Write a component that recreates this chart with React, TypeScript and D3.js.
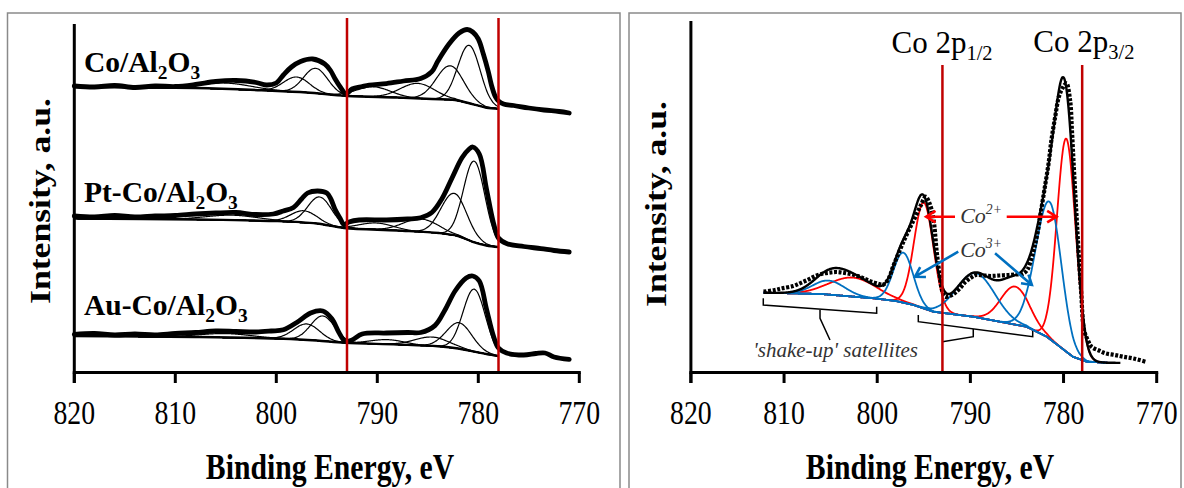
import React from "react";
import * as d3 from "d3";

// ---------- shared ----------
const tickValues = [820, 810, 800, 790, 780, 770];
const refLines = [793, 778];

// ---------- left panel: three spectra (BE eV, intensity a.u.) ----------
const sampleNames = ["Co/Al2O3", "Pt-Co/Al2O3", "Au-Co/Al2O3"];

const coAlData: [number, number][] = [
  [820, 287], [818, 286], [816, 287.5], [814, 285.5], [812, 287], [810, 286.5], [808, 288.5],
  [806, 291.5], [804, 292.5], [802, 290.5], [801, 288], [800, 290], [799.3, 298], [798.5, 306],
  [797.6, 311.5], [796.4, 314], [795.2, 309], [794.6, 302], [794.2, 294.5], [793.6, 285],
  [793.1, 279], [792.5, 284], [791.5, 286.5], [790.8, 288], [789.1, 289.4], [787.4, 292],
  [785.7, 294.5], [784.6, 301.4], [784, 312], [782.9, 329], [781.9, 340], [781.1, 343.5],
  [780.55, 341], [780, 334], [779.5, 319], [779, 301], [778.7, 288], [778.3, 276], [778, 272],
  [777.5, 269], [776.5, 267.5], [775, 265], [773.5, 263], [772, 261.5], [771, 260],
];
const coAlBackground: [number, number][] = [
  [820, 286], [808, 285], [801, 282.5], [797, 280.5], [793, 277], [788, 275.5], [784.6, 274],
  [782.3, 273], [780.5, 268.7], [779.2, 265.3], [778, 264.3],
];
// [center eV, height, FWHM high-BE side, FWHM low-BE side]
const coAlPeaks = [
  [780.9, 58, 2.6, 2.6], [782.8, 34, 3.2, 3.2], [786, 15, 4, 4], [790.4, 10, 4, 4],
  [796.1, 25, 2.8, 2.8], [798, 15, 3, 3], [805, 6, 6, 6],
];

const ptCoData: [number, number][] = [
  [820, 157], [818, 156], [816, 157.5], [814, 156], [812, 157], [810, 157.5], [808, 159],
  [806, 160], [804, 160.5], [802, 158.5], [800.3, 159], [799.3, 162], [798.3, 165.6],
  [797.5, 174], [796.9, 180], [795.9, 182], [795, 180], [794.6, 174], [794.2, 164],
  [793.7, 155], [793.3, 148.4], [792.8, 151], [791.8, 153], [789.1, 153], [787, 154],
  [785.7, 155.3], [784.6, 160.5], [783.6, 174.2], [782.6, 195], [781.6, 215.5], [780.9, 224],
  [780.55, 226], [779.9, 219], [779.2, 184.5], [778.5, 150.2], [778, 135], [777.2, 129.5],
  [775.5, 126.5], [773.8, 124.4], [772.5, 122.5], [771, 121],
];
const ptCoBackground: [number, number][] = [
  [820, 154.5], [808, 153.5], [800.3, 152], [796, 149.5], [793.3, 145], [788, 142.5],
  [783.9, 140], [782, 137], [780.55, 131.2], [779.2, 127.5], [778, 126],
];
const ptCoPeaks = [
  [780.4, 81, 2.5, 2.5], [782.4, 42, 3, 3], [785.7, 13, 4, 4], [790.1, 6.5, 4, 4],
  [795.7, 27, 2.8, 2.8], [797.3, 12, 3, 3], [804.4, 5, 6, 6],
];

const auCoData: [number, number][] = [
  [820, 38.7], [818, 39.5], [816, 38], [814, 39], [812, 38], [810, 39.5], [808, 40.5],
  [806, 42], [804, 41.5], [802, 41], [800.5, 42], [799.3, 43.2], [797.9, 51], [796.6, 60],
  [795.4, 62], [794.5, 54.2], [793.8, 40.5], [793.2, 32], [792.5, 33], [791.5, 39],
  [789.1, 40], [787, 40.5], [785.7, 40.5], [784.3, 47.4], [783.3, 63], [782.3, 82],
  [781.2, 95], [780.55, 97], [779.9, 92], [779.2, 64.5], [778.5, 37], [778, 25], [777.2, 20],
  [775.5, 18], [774.3, 19.5], [773.4, 20], [772.5, 16], [771, 13.6],
];
const auCoBackground: [number, number][] = [
  [820, 37], [808, 36], [799.3, 34.3], [796, 32.5], [793.2, 30.2], [788, 28.5], [784, 26.7],
  [782, 24.5], [780.55, 21.6], [779.2, 19], [778, 17],
];
const auCoPeaks = [
  [780.4, 62.5, 2.6, 2.6], [781.9, 26, 3, 3], [784.6, 9, 4, 4], [789, 4.5, 4, 4],
  [795.4, 25, 2.8, 2.8], [797, 16, 3, 3], [805, 4, 6, 6],
];

// ---------- right panel: Co/Al2O3 deconvolution ----------
const coData: [number, number][] = [
  [812.2, 80.3], [811, 82], [810.2, 83.7], [809, 86], [808.3, 88.7], [807.5, 92], [806.8, 95.3],
  [806, 98], [805.2, 99.3], [804.4, 100], [803.7, 99.3], [802.9, 98], [802.1, 96], [801.3, 93],
  [800.6, 90.3], [799.8, 88], [799.4, 87], [798.8, 93], [798.3, 105.3], [797.7, 119],
  [797.1, 132], [796.5, 144], [795.9, 155.3], [795.3, 167], [794.8, 175.3], [794.4, 169],
  [794, 155.3], [793.6, 119], [793.3, 97], [793.05, 82], [792.7, 75.3], [792.2, 76],
  [791.7, 78.7], [791.1, 84], [790.5, 90.3], [789.9, 94.5], [789.4, 97], [788.6, 96.5],
  [787.8, 96], [786.9, 96.5], [785.9, 97], [785.1, 97.5], [784.4, 98], [783.9, 102],
  [783.6, 108.7], [783.2, 122], [782.8, 138.7], [782.4, 162], [782, 185.3], [781.6, 209],
  [781.3, 232], [780.9, 255], [780.5, 275.3], [780.1, 284], [779.7, 288.7], [779.3, 272],
  [779.1, 242], [778.9, 205.3], [778.7, 172], [778.5, 139], [778.3, 107], [778.1, 79],
  [777.8, 42], [777.4, 32], [777, 25.3], [776.2, 21.5], [775.5, 18.7], [774.5, 17],
  [773.6, 15.3], [772.5, 13.5], [771.2, 10.3],
];
const coBackground: [number, number][] = [
  [812.2, 79.3], [806, 78], [800.4, 73.7], [798, 71], [796.1, 67], [794, 60.3], [789.7, 55.3],
  [784, 45.3], [781.8, 35.3], [780.4, 25.3], [779, 15.3], [777.5, 10.3], [775.4, 9.3], [773, 9],
];
const co2Peaks = [
  [779.7, 213, 2.35, 2.35], [785.2, 38, 3.6, 3.6], [795.0, 106, 2.45, 2.45], [802.6, 19, 5.9, 5.9],
];
const co3Peaks = [
  [781.5, 137, 3.5, 3.0], [789.4, 44, 4.8, 4.8], [797.2, 50, 2.5, 2.5], [805.2, 14, 4, 4],
];

// ---------- styling ----------
const FONT = "'Liberation Serif', 'Times New Roman', Times, serif";
const DARKRED = "#c00000";
const RED = "#ff0000";
const BLUE = "#0070c0";
const STRETCH = 1.2;

function peakValue(be: number, p: number[]) {
  const [c, h, fHigh, fLow] = p;
  const s = (be >= c ? fHigh : fLow) / 2.3548;
  return h * Math.exp(-0.5 * ((be - c) / s) ** 2);
}

function bgScale(bg: [number, number][]) {
  return d3.scaleLinear().domain(bg.map((d) => d[0])).range(bg.map((d) => d[1])).clamp(true);
}

function Axes({ x, yTop }: { x: d3.ScaleLinear<number, number>; yTop: number }) {
  const y0 = 372.5;
  return (
    <g>
      <line x1={x(820)} x2={x(820)} y1={yTop} y2={383} stroke="#000" strokeWidth={3} />
      <line x1={x(820) - 1.5} x2={x(770) + 1.5} y1={y0} y2={y0} stroke="#000" strokeWidth={3} />
      {tickValues.map((t) => (
        <g key={t}>
          <line x1={x(t)} x2={x(t)} y1={y0} y2={383} stroke="#000" strokeWidth={3} />
          <text
            transform={`translate(${x(t)},424) scale(1,${STRETCH})`}
            textAnchor="middle"
            fontFamily={FONT}
            fontSize={27.8}
            fill="#000"
          >
            {t}
          </text>
        </g>
      ))}
    </g>
  );
}

function SubLabel({ x, y, parts, size, bold, italic, fill }: any) {
  return (
    <text x={x} y={y} fontFamily={FONT} fontSize={size} fontWeight={bold ? "bold" : "normal"}
      fontStyle={italic ? "italic" : "normal"} fill={fill || "#000"}>
      {parts.map((p: any, i: number) => (
        <tspan key={i} fontSize={p.s ? size * p.s : size} dy={p.dy || 0}>{p.t}</tspan>
      ))}
    </text>
  );
}

export default function App() {
  // left scales
  const xL = d3.scaleLinear().domain([820, 770]).range([74.3, 579.3]);
  const yL = d3.scaleLinear().domain([0, 349]).range([373, 24]);
  // right scales
  const xR = d3.scaleLinear().domain([820, 770]).range([690.9, 1156.7]);
  const yR = d3.scaleLinear().domain([0, 350]).range([372, 22]);

  const lineL = d3.line<[number, number]>().x((d) => xL(d[0])).y((d) => yL(d[1])).curve(d3.curveCatmullRom);
  const lineR = d3.line<[number, number]>().x((d) => xR(d[0])).y((d) => yR(d[1])).curve(d3.curveCatmullRom);

  const gridL = d3.range(820, 777.99, -0.1);
  const gridR = d3.range(812.2, 775.3, -0.05);
  const gridFit = d3.range(812.2, 773.9, -0.05);

  const spectra = [
    { name: sampleNames[0], data: coAlData, bg: coAlBackground, peaks: coAlPeaks, labelY: 71.6 },
    { name: sampleNames[1], data: ptCoData, bg: ptCoBackground, peaks: ptCoPeaks, labelY: 202 },
    { name: sampleNames[2], data: auCoData, bg: auCoBackground, peaks: auCoPeaks, labelY: 315.3 },
  ];

  const bgR = bgScale(coBackground);
  const allR = [...co2Peaks, ...co3Peaks];
  const fit: [number, number][] = gridFit.map((be) => [be, bgR(be) + d3.sum(allR, (p) => peakValue(be, p))]);

  const labelParts = (name: string) => {
    const [pre] = name.split("Al2O3");
    return [
      { t: pre + "Al" },
      { t: "2", s: 0.66, dy: 7 },
      { t: "O", dy: -7 },
      { t: "3", s: 0.66, dy: 7 },
    ];
  };

  const arrowHead = (x1: number, y1: number, x2: number, y2: number, len = 11, spread = 0.55) => {
    const a = Math.atan2(y2 - y1, x2 - x1);
    const p1 = [x2 - len * Math.cos(a - spread), y2 - len * Math.sin(a - spread)];
    const p2 = [x2 - len * Math.cos(a + spread), y2 - len * Math.sin(a + spread)];
    return `M${x1},${y1}L${x2},${y2}M${p1[0]},${p1[1]}L${x2},${y2}L${p2[0]},${p2[1]}`;
  };

  // annotation anchors in data space (BE, intensity)
  const co2Arrows = [[791.65, 155.3, 794.75, 155.3], [786.1, 155.3, 780.75, 155.3]];
  const co3Arrows = [[791.3, 120.3, 795.95, 95.3], [787.35, 118.7, 783.4, 87]];
  const bracket1 = [[812.23, 73.7], [812.23, 67], [800.06, 58.7], [800.06, 65.3]];
  const stem1 = [[806.14, 62], [806.14, 53.7], [805.07, 32]];
  const bracket2 = [[795.59, 57], [795.59, 50.3], [783.31, 35.3], [783.31, 42]];
  const stem2 = [[789.69, 43.1], [789.69, 35.3], [793.0, 30.3]];
  const poly = (pts: number[][]) => "M" + pts.map((p) => `${xR(p[0])},${yR(p[1])}`).join("L");

  return (
    <svg width={1184} height={488} style={{ position: "absolute", left: 0, top: 0, background: "#fff" }}>
      <rect x={0} y={0} width={1184} height={488} fill="#fff" />
      {/* panel frames */}
      <rect x={7.5} y={13} width={612.5} height={520} fill="none" stroke="#8a8a8a" strokeWidth={1.5} />
      <rect x={629} y={13} width={552} height={520} fill="none" stroke="#8a8a8a" strokeWidth={1.5} />

      {/* ---------- LEFT PANEL ---------- */}
      <g>
        {spectra.map((s) => {
          const bg = bgScale(s.bg);
          return (
            <g key={s.name}>
              {s.peaks.map((p, i) => (
                <path key={i} fill="none" stroke="#000" strokeWidth={1.2}
                  d={lineL(gridL.map((be) => [be, bg(be) + peakValue(be, p)]) as [number, number][]) || ""} />
              ))}
              <path fill="none" stroke="#000" strokeWidth={2.4} d={lineL(s.bg) || ""} />
              <path fill="none" stroke="#000" strokeWidth={4.8} strokeLinejoin="round" strokeLinecap="round"
                d={lineL(s.data) || ""} />
              <SubLabel x={84} y={s.labelY} size={29.5} bold parts={labelParts(s.name)} />
            </g>
          );
        })}
        {refLines.map((r) => (
          <line key={r} x1={xL(r)} x2={xL(r)} y1={yL(355)} y2={yL(0)} stroke={DARKRED} strokeWidth={2.5} />
        ))}
        <Axes x={xL} yTop={24} />
        <text transform={`translate(50,201) scale(1,${STRETCH}) rotate(-90)`} textAnchor="middle"
          fontFamily={FONT} fontWeight="bold" fontSize={29.7}>Intensity, a.u.</text>
        <text transform={`translate(330,479) scale(1,${STRETCH})`} textAnchor="middle"
          fontFamily={FONT} fontWeight="bold" fontSize={29.7}>Binding Energy, eV</text>
      </g>

      {/* ---------- RIGHT PANEL ---------- */}
      <g>
        {/* brackets */}
        <path d={poly(bracket1)} fill="none" stroke="#000" strokeWidth={1.5} />
        <path d={poly(stem1)} fill="none" stroke="#000" strokeWidth={1.5} />
        <path d={poly(bracket2)} fill="none" stroke="#000" strokeWidth={1.5} />
        <path d={poly(stem2)} fill="none" stroke="#000" strokeWidth={1.5} />
        <text x={xR(813.3)} y={yR(15.3)} fontFamily={FONT} fontStyle="italic" fontSize={21} fill="#333">
          'shake-up' satellites
        </text>

        {/* components */}
        {co2Peaks.map((p, i) => (
          <path key={"r" + i} fill="none" stroke={RED} strokeWidth={1.8}
            d={lineR(gridR.map((be) => [be, bgR(be) + peakValue(be, p)]) as [number, number][]) || ""} />
        ))}
        {co3Peaks.map((p, i) => (
          <path key={"b" + i} fill="none" stroke={BLUE} strokeWidth={1.8}
            d={lineR(gridR.map((be) => [be, bgR(be) + peakValue(be, p)]) as [number, number][]) || ""} />
        ))}
        {/* fit envelope */}
        <path fill="none" stroke="#000" strokeWidth={2.4} d={lineR(fit) || ""} />
        {/* measured points */}
        <path fill="none" stroke="#000" strokeWidth={4.2} strokeDasharray="3 1.6" d={lineR(coData) || ""} />

        {refLines.map((r) => (
          <line key={r} x1={xR(r)} x2={xR(r)} y1={yR(307)} y2={yR(0)} stroke={DARKRED} strokeWidth={2.5} />
        ))}

        {/* Co2+ / Co3+ annotations */}
        {co2Arrows.map((a, i) => (
          <path key={"ra" + i} d={arrowHead(xR(a[0]), yR(a[1]), xR(a[2]), yR(a[3]))} fill="none"
            stroke={RED} strokeWidth={2.6} />
        ))}
        {co3Arrows.map((a, i) => (
          <path key={"ba" + i} d={arrowHead(xR(a[0]), yR(a[1]), xR(a[2]), yR(a[3]))} fill="none"
            stroke={BLUE} strokeWidth={2.6} />
        ))}
        <SubLabel x={xR(791.1)} y={yR(148.7)} size={22} italic fill="#333"
          parts={[{ t: "Co" }, { t: "2+", s: 0.62, dy: -9 }]} />
        <SubLabel x={xR(791.1)} y={yR(115.3)} size={22} italic fill="#333"
          parts={[{ t: "Co" }, { t: "3+", s: 0.62, dy: -9 }]} />

        <SubLabel x={891.5} y={53.3} size={31} parts={[{ t: "Co 2p" }, { t: "1/2", s: 0.66, dy: 7 }]} />
        <SubLabel x={1033.3} y={51.7} size={31} parts={[{ t: "Co 2p" }, { t: "3/2", s: 0.66, dy: 7 }]} />

        <Axes x={xR} yTop={21} />
        <text transform={`translate(666,204) scale(1,${STRETCH}) rotate(-90)`} textAnchor="middle"
          fontFamily={FONT} fontWeight="bold" fontSize={29.7}>Intensity, a.u.</text>
        <text transform={`translate(930,479) scale(1,${STRETCH})`} textAnchor="middle"
          fontFamily={FONT} fontWeight="bold" fontSize={29.7}>Binding Energy, eV</text>
      </g>
    </svg>
  );
}
